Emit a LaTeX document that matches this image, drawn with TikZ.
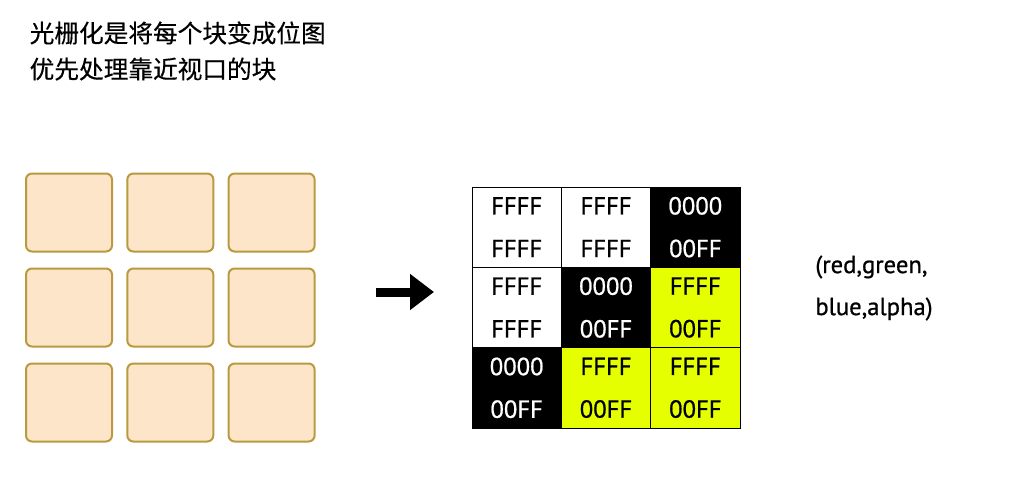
\documentclass[tikz,border=0pt]{standalone}
\usepackage{fontspec}
\setmainfont{PT Sans}
\newfontfamily\cellfont[FakeBold=0.8]{PT Sans}
\newfontfamily\cjk[FakeBold=0.4]{Noto Sans CJK SC}
\usetikzlibrary{arrows.meta}

\definecolor{tilefill}{HTML}{FDE5C9}
\definecolor{tileedge}{HTML}{B99A3F}
\definecolor{pixyellow}{HTML}{E6FF00}

\tikzset{
	tile/.style={draw=tileedge, fill=tilefill, line width=1.5pt, rounded corners=4.5pt,
		minimum width=64.5pt, minimum height=58.5pt},
	cell/.style={draw=black, line width=0.75pt, minimum width=67pt, minimum height=60.25pt,
		inner sep=0pt, align=center, font=\cellfont\fontsize{18.5pt}{32pt}\selectfont},
	bigarrow/.style={line width=6.75pt, -{Triangle[length=18pt,width=26pt]}},
}

\begin{document}
\begin{tikzpicture}[x=0.75pt,y=-0.75pt]
		\useasboundingbox (0,0) rectangle (1034,500);
		
		% Titel
		\node[anchor=west, align=left, font=\cjk\fontsize{18.5pt}{27pt}\selectfont] (title) at (25,51)
			{光栅化是将每个块变成位图\\优先处理靠近视口的块};
		
		% Bloecke (3x3)
		\foreach \r in {0,1,2}
			\foreach \c in {0,1,2}
				\node[tile] (tile\r\c) at ({69+101.3*\c},{212.5+95*\r}) {};
		
		% Pfeil
		\coordinate (arrowtail) at (376,292);
		\coordinate (arrowhead) at (434,292);
		\draw[bigarrow] (arrowtail) -- (arrowhead);
		
		% Bitmap
		\foreach \r/\c/\bg/\fg/\top/\bot in {
				0/0/white/black/FFFF/FFFF, 0/1/white/black/FFFF/FFFF, 0/2/black/white/0000/00FF,
				1/0/white/black/FFFF/FFFF, 1/1/black/white/0000/00FF, 1/2/pixyellow/black/FFFF/00FF,
				2/0/black/white/0000/00FF, 2/1/pixyellow/black/FFFF/00FF, 2/2/pixyellow/black/FFFF/00FF}
			\node[cell, fill=\bg, text=\fg] (px\r\c) at ({516.67+89.33*\c},{227.17+80.33*\r}) {\top\\\bot};
		
		% Farbkanaele
		\node[align=left, font=\cellfont\fontsize{18.5pt}{31.5pt}\selectfont] (rgba) at (874,288)
			{(red,green,\\blue,alpha)};
		
\end{tikzpicture}
\end{document}
